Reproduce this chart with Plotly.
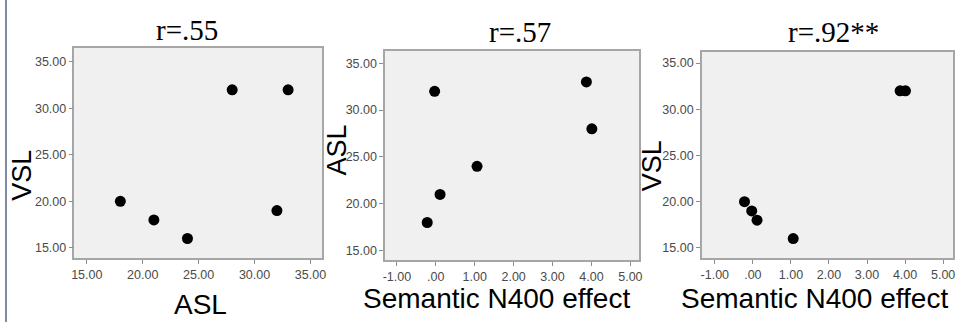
import plotly.graph_objects as go

# Data
asl = [18, 21, 24, 28, 32, 33]
vsl = [20, 18, 16, 32, 19, 32]
n400 = [-0.22, 0.11, 1.06, 4.01, -0.03, 3.87]

titles = ["r=.55", "r=.57", "r=.92**"]
x_titles = ["ASL", "Semantic N400 effect", "Semantic N400 effect"]
y_titles = ["VSL", "ASL", "VSL"]

yticks = [15, 20, 25, 30, 35]
ytick_labels = ["15.00", "20.00", "25.00", "30.00", "35.00"]
xticks_asl = [15, 20, 25, 30, 35]
xtick_labels_asl = ["15.00", "20.00", "25.00", "30.00", "35.00"]
xticks_n400 = [-1, 0, 1, 2, 3, 4, 5]
xtick_labels_n400 = ["-1.00", ".00", "1.00", "2.00", "3.00", "4.00", "5.00"]

W, H = 961, 322

panels = [
    dict(x=asl, y=vsl, xdom=(72, 321), ydom=(48, 258), xr=[13.9, 36.0], yr=[13.9, 36.5],
         xt=xticks_asl, xl=xtick_labels_asl),
    dict(x=n400, y=asl, xdom=(385, 641), ydom=(51, 260), xr=[-1.3, 5.23], yr=[14.0, 36.3],
         xt=xticks_n400, xl=xtick_labels_n400),
    dict(x=n400, y=vsl, xdom=(704, 957), ydom=(52, 258), xr=[-1.34, 5.26], yr=[13.9, 36.2],
         xt=xticks_n400, xl=xtick_labels_n400),
]

title_pos = [(185, 30), (521, 32), (837, 32)]
xt_pos = [(199, 304), (497, 298), (817, 298)]
yt_pos = [(19, 175), (336, 150), (654, 166)]

fig = go.Figure()
layout = dict(
    width=W, height=H, margin=dict(l=0, r=0, t=0, b=0),
    paper_bgcolor="white", showlegend=False,
)
tickfont = dict(family="Liberation Sans, Arial", size=12.5, color="#4a4a4a")
annotations = []
for i, p in enumerate(panels):
    n = "" if i == 0 else str(i + 1)
    fig.add_trace(go.Scatter(
        x=p["x"], y=p["y"], mode="markers",
        marker=dict(color="black", size=11),
        xaxis="x" + n, yaxis="y" + n, cliponaxis=False,
    ))
    axcommon = dict(showgrid=False, zeroline=False, showline=True, mirror=True,
                    linecolor="#a6a6a6", linewidth=1.5, ticks="outside", ticklen=4,
                    tickcolor="#8c8c8c", tickwidth=1, tickfont=tickfont, fixedrange=True)
    layout["xaxis" + n] = dict(
        domain=[p["xdom"][0] / W, p["xdom"][1] / W], range=p["xr"],
        anchor="y" + n, tickmode="array", tickvals=p["xt"], ticktext=p["xl"], **axcommon)
    layout["yaxis" + n] = dict(
        domain=[1 - p["ydom"][1] / H, 1 - p["ydom"][0] / H], range=p["yr"],
        anchor="x" + n, tickmode="array", tickvals=yticks, ticktext=ytick_labels, **axcommon)
    fig.add_shape(type="rect", xref="x" + n + " domain", yref="y" + n + " domain",
                  x0=0, x1=1, y0=0, y1=1, fillcolor="#f0f0f0", line_width=0, layer="below")
    tx, ty = title_pos[i]
    annotations.append(dict(x=tx / W, y=1 - ty / H, xref="paper", yref="paper",
                            text=titles[i], showarrow=False,
                            font=dict(family="Liberation Serif, Times New Roman", size=29, color="black"),
                            xanchor="center", yanchor="middle"))
    ax_, ay_ = xt_pos[i]
    annotations.append(dict(x=ax_ / W, y=1 - ay_ / H, xref="paper", yref="paper",
                            text=x_titles[i], showarrow=False,
                            font=dict(family="Liberation Sans, Arial", size=28, color="black"),
                            xanchor="center", yanchor="middle"))
    bx, by = yt_pos[i]
    annotations.append(dict(x=bx / W, y=1 - by / H, xref="paper", yref="paper",
                            text=y_titles[i], showarrow=False, textangle=-90,
                            font=dict(family="Liberation Sans, Arial", size=27, color="black"),
                            xanchor="center", yanchor="middle"))

layout["annotations"] = annotations
fig.update_layout(**layout)
# left frame line of the original slide
fig.add_shape(type="line", xref="paper", yref="paper", x0=3 / W, x1=3 / W, y0=0, y1=1,
              line=dict(color="#7d8ca3", width=2))
fig.write_html(
    "out.html",
    config={"displayModeBar": False},
    post_script="document.body.style.margin='0';document.body.style.overflow='hidden';",
)
